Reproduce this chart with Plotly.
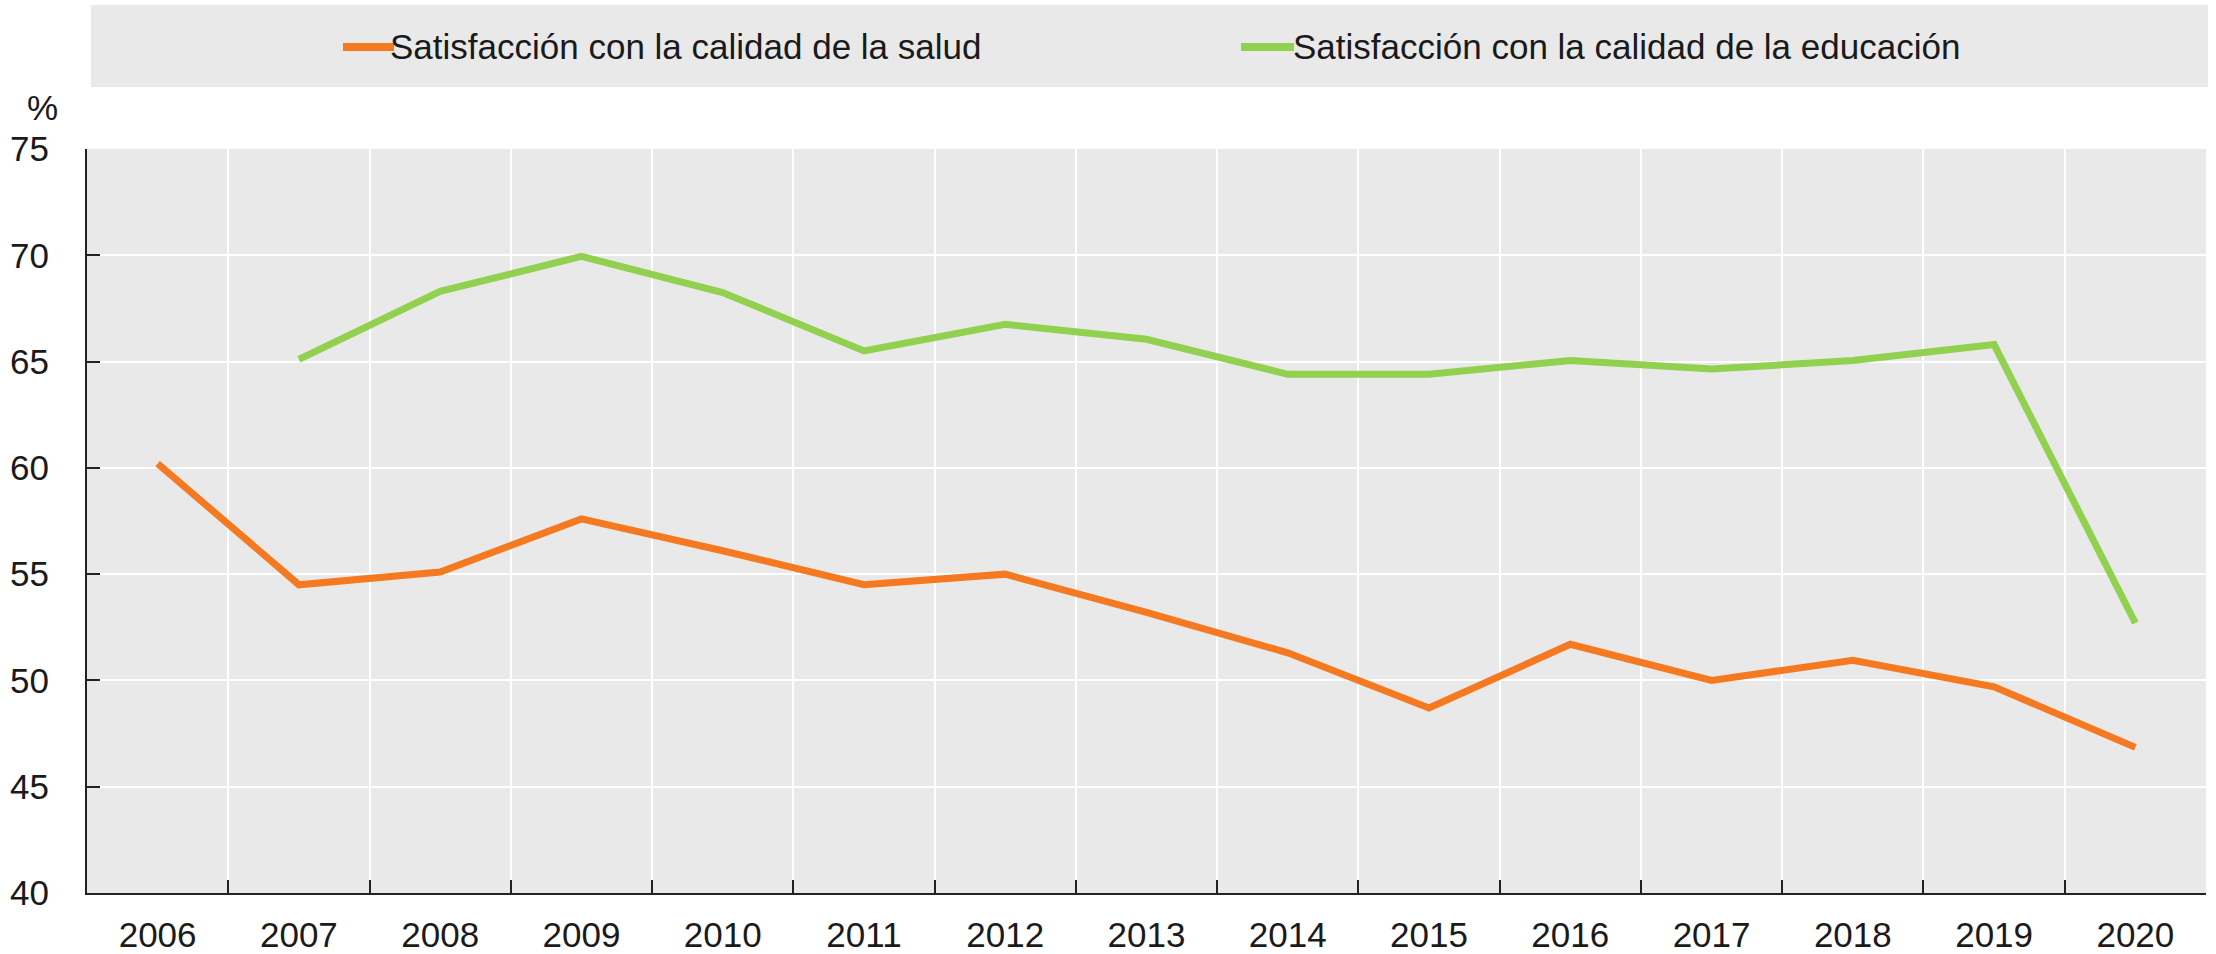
import plotly.graph_objects as go

years = ["2006", "2007", "2008", "2009", "2010", "2011", "2012", "2013",
         "2014", "2015", "2016", "2017", "2018", "2019", "2020"]
salud = [60.2, 54.5, 55.1, 57.6, 56.1, 54.5, 55.0, 53.2, 51.3, 48.7,
         51.7, 50.0, 50.95, 49.7, 46.85]
educacion = [None, 65.1, 68.3, 69.95, 68.25, 65.5, 66.75, 66.05, 64.4, 64.4,
             65.05, 64.65, 65.05, 65.8, 52.7]
name_salud = "Satisfacción con la calidad de la salud"
name_edu = "Satisfacción con la calidad de la educación"
y_ticks = [40, 45, 50, 55, 60, 65, 70, 75]

ORANGE = "#F47920"
GREEN = "#92D050"
FONT = "Liberation Sans, Arial, sans-serif"
TXT = "#1a1a1a"

W, H = 2216, 954
L, R, T, B = 87, 10, 149, 61
PW, PH = W - L - R, H - T - B


def px(x):
    return (x - L) / PW


def py(y):
    return (H - B - y) / PH


fig = go.Figure()
fig.add_trace(go.Scatter(x=years, y=salud, mode="lines", name=name_salud,
                         line=dict(color=ORANGE, width=7), showlegend=False))
fig.add_trace(go.Scatter(x=years, y=educacion, mode="lines", name=name_edu,
                         line=dict(color=GREEN, width=7), showlegend=False,
                         connectgaps=False))

shapes = [
    dict(type="rect", xref="paper", yref="paper", x0=px(91), x1=px(2208),
         y0=py(87), y1=py(5), fillcolor="#E9E9E9", line=dict(width=0), layer="below"),
    dict(type="line", xref="paper", yref="paper", x0=px(343), x1=px(394),
         y0=py(47), y1=py(47), line=dict(color=ORANGE, width=8)),
    dict(type="line", xref="paper", yref="paper", x0=px(1241), x1=px(1294),
         y0=py(47), y1=py(47), line=dict(color=GREEN, width=8)),
]
annotations = [
    dict(text=name_salud, xref="paper", yref="paper", x=px(388), y=py(46),
         xanchor="left", yanchor="middle", showarrow=False,
         font=dict(family=FONT, size=35, color=TXT)),
    dict(text=name_edu, xref="paper", yref="paper", x=px(1291), y=py(46),
         xanchor="left", yanchor="middle", showarrow=False,
         font=dict(family=FONT, size=35, color=TXT)),
    dict(text="%", xref="paper", yref="paper", x=px(42), y=py(108),
         xanchor="center", yanchor="middle", showarrow=False,
         font=dict(family=FONT, size=35, color=TXT)),
]

fig.update_layout(
    width=W, height=H,
    margin=dict(l=L, r=R, t=T, b=B, pad=0, autoexpand=False),
    paper_bgcolor="white", plot_bgcolor="#E9E9E9",
    font=dict(family=FONT, size=35, color=TXT),
    shapes=shapes, annotations=annotations,
    showlegend=False,
)
fig.update_xaxes(type="category", tickson="boundaries", showgrid=True,
                 gridcolor="white", gridwidth=2, ticks="inside", ticklen=13,
                 tickwidth=2, tickcolor="#222222", showline=True,
                 linecolor="#222222", linewidth=2, zeroline=False,
                 ticklabelstandoff=10, range=[-0.5, 14.5], automargin=False)
fig.update_yaxes(range=[40, 75], tickvals=y_ticks, showgrid=True,
                 gridcolor="white", gridwidth=2, ticks="inside", ticklen=13,
                 tickwidth=2, tickcolor="#222222", showline=True,
                 linecolor="#222222", linewidth=2, zeroline=False,
                 ticklabelstandoff=29, automargin=False)

fig.write_html("out.html", config={"displayModeBar": False},
               post_script="document.body.style.margin='0';"
                           "document.body.style.overflow='hidden';")
